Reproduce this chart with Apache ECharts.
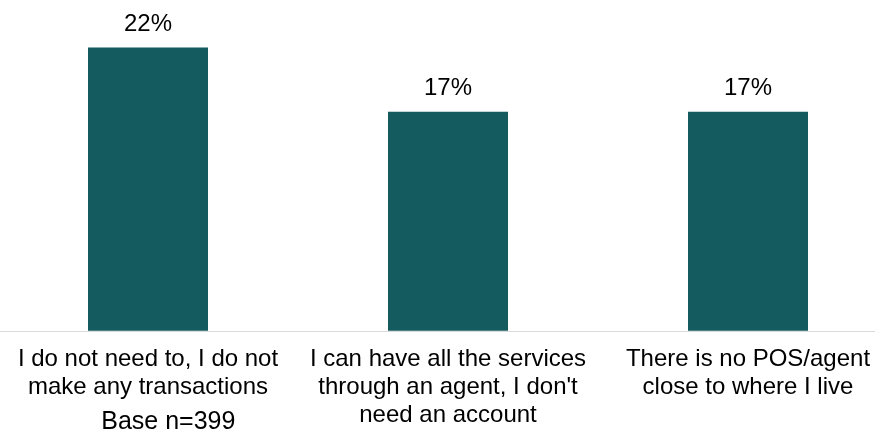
<!DOCTYPE html>
<html><head><meta charset="utf-8">
<script src="https://cdn.jsdelivr.net/npm/echarts@6/dist/echarts.min.js"></script>
<style>html,body{margin:0;padding:0;background:#fff;overflow:hidden;width:875px;height:434px}#c{width:900px;height:434px;margin-left:-2px}</style>
</head><body><div id="c"></div>
<script>
const categories = [
  "I do not need to, I do not\nmake any transactions",
  "I can have all the services\nthrough an agent, I don't\nneed an account",
  "There is no POS/agent\nclose to where I live"
];
const values = [22, 17, 17];
const baseNote = "Base n=399";

const FONT = '"Liberation Sans", Arial, sans-serif';
const chart = echarts.init(document.getElementById('c'), null, {renderer: 'canvas'});
chart.setOption({
  animation: false,
  grid: {left: 0, right: 0, top: 8.75, bottom: 103.25, containLabel: false},
  xAxis: {
    type: 'category', data: categories,
    axisLine: {show: true, lineStyle: {color: '#d9d9d9', width: 1}},
    axisTick: {show: false},
    axisLabel: {interval: 0, color: '#000', fontFamily: FONT, fontSize: 24, lineHeight: 28, margin: 15}
  },
  yAxis: {type: 'value', min: 0, max: 25, show: false, splitLine: {show: false}},
  series: [{
    type: 'bar', data: values, barWidth: 120,
    itemStyle: {color: '#135B5F'},
    label: {show: true, position: 'top', distance: 11, formatter: '{c}%', color: '#000', fontFamily: FONT, fontSize: 24}
  }],
  graphic: [{
    type: 'text', x: 170.3, y: 422.5,
    style: {text: baseNote, fill: '#000', font: '25px "Liberation Sans", Arial, sans-serif', align: 'center', verticalAlign: 'middle'}
  }]
});
</script></body></html>
